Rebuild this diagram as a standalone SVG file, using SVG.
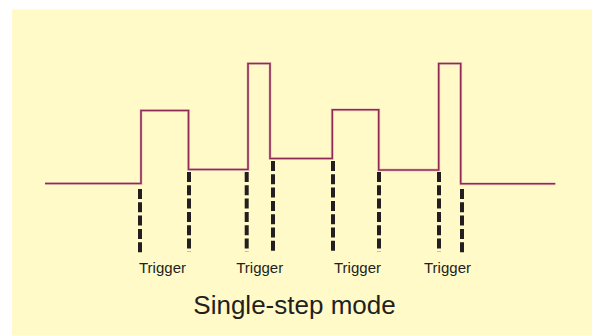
<svg xmlns="http://www.w3.org/2000/svg" width="597" height="336" viewBox="0 0 597 336">
<style>
.wave{fill:none;stroke:#8e2a55;stroke-width:1.6;stroke-linejoin:miter}
.halo{fill:none;stroke:#d9a3b0;stroke-width:3;opacity:0.5}
.trig{stroke:#231f20;stroke-width:4;stroke-dasharray:10 3.3}
.lbl{font-family:"Liberation Sans",Arial,sans-serif;fill:#231f20;text-anchor:middle}
</style>
<rect x="0" y="0" width="597" height="336" fill="#ffffff"/>
<rect x="12" y="9.5" width="580" height="326" fill="#fffac8"/>
<g id="connectors">
<path class="halo" d="M45,183.5 H141 V110.5 H188.5 V169.5 H248 V63.5 H270 V158.5 H332.3 V109.7 H378.7 V170 H438.7 V63.5 H460.7 V183.7 H555.3"/>
<path class="wave" d="M45,183.5 H141 V110.5 H188.5 V169.5 H248 V63.5 H270 V158.5 H332.3 V109.7 H378.7 V170 H438.7 V63.5 H460.7 V183.7 H555.3"/>
<line class="trig" x1="140" y1="189" x2="140" y2="253"/>
<line class="trig" x1="189" y1="172" x2="189" y2="252"/>
<line class="trig" x1="246.7" y1="172" x2="246.7" y2="252"/>
<line class="trig" x1="273" y1="161" x2="273" y2="252"/>
<line class="trig" x1="333" y1="161" x2="333" y2="252"/>
<line class="trig" x1="379" y1="172" x2="379" y2="252"/>
<line class="trig" x1="439" y1="172" x2="439" y2="252"/>
<line class="trig" x1="462" y1="189" x2="462" y2="253"/>
</g>
<g id="labels">
<text class="lbl" x="162.5" y="273" font-size="15">Trigger</text>
<text class="lbl" x="259.7" y="273" font-size="15">Trigger</text>
<text class="lbl" x="357.5" y="273" font-size="15">Trigger</text>
<text class="lbl" x="447.5" y="273" font-size="15">Trigger</text>
<text id="title" class="lbl" x="294.5" y="314.3" font-size="26">Single-step mode</text>
</g>
</svg>
